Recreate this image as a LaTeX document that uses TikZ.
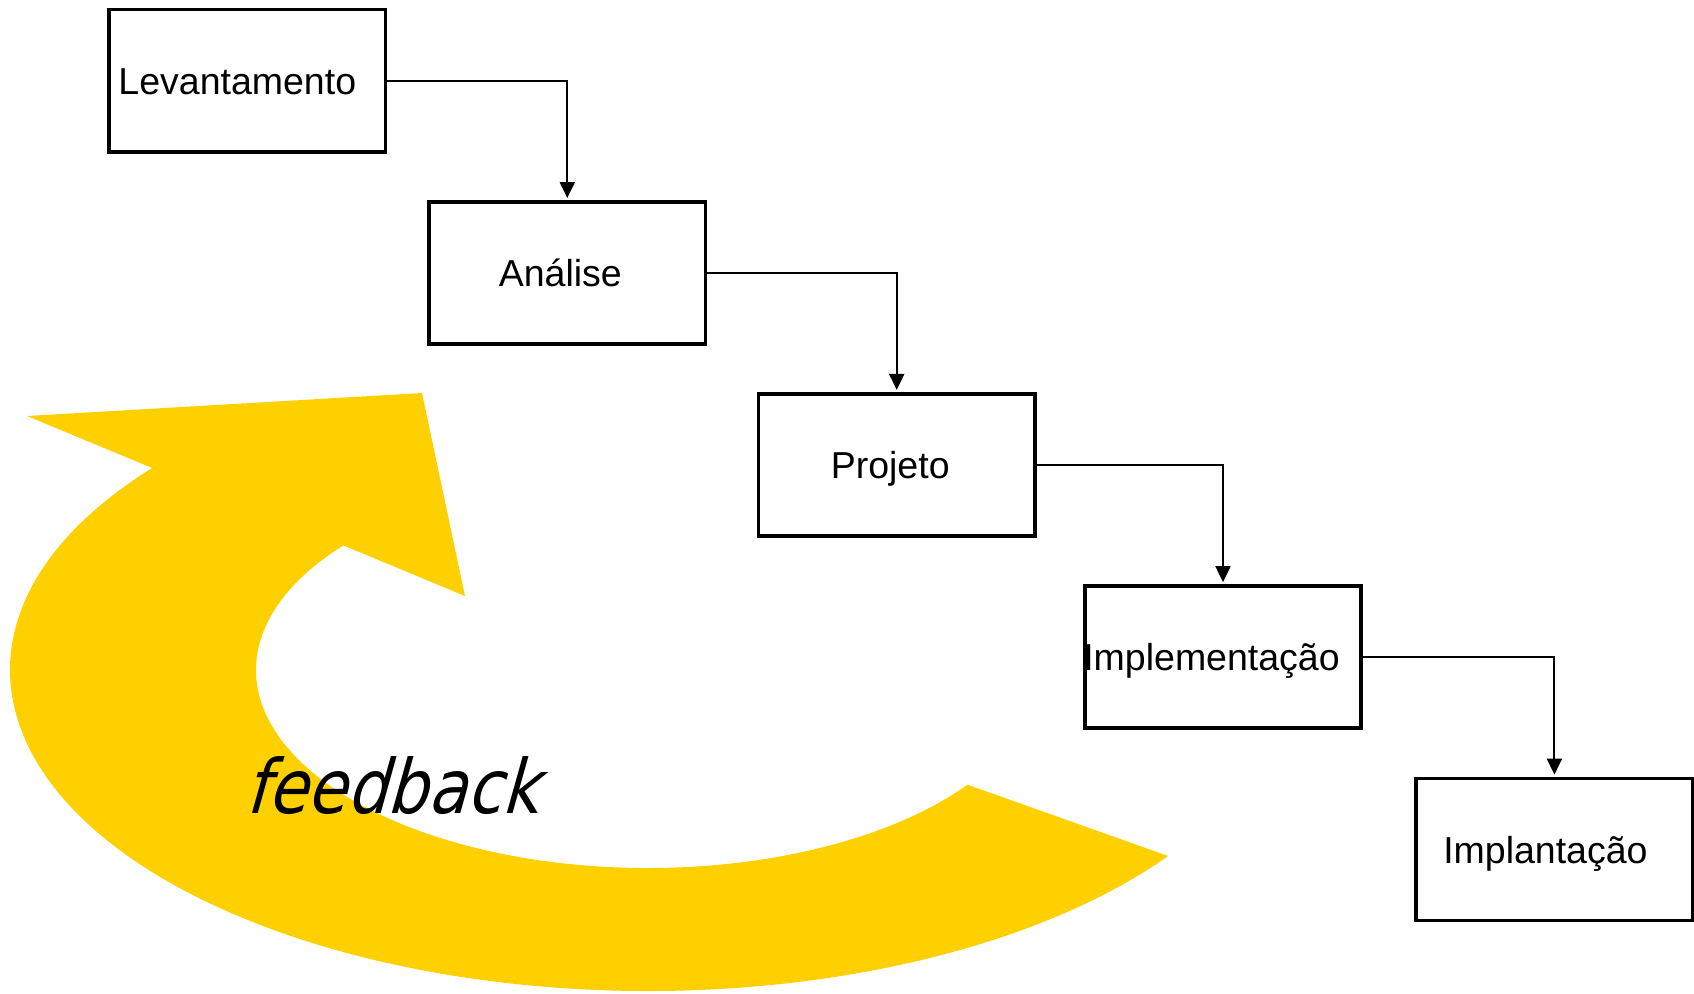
\documentclass[tikz,border=0pt]{standalone}
\usepackage{fontspec}
\setmainfont{Liberation Sans}
\newfontfamily\fbfont{DejaVu Sans}[FakeSlant=0.28,FakeStretch=0.85]
\usetikzlibrary{arrows.meta}
\definecolor{fbyellow}{RGB}{255,208,0}
\begin{document}
\begin{tikzpicture}[x=1pt,y=-1pt,
  stage/.style={draw=black, line width=3.6pt, minimum width=276.4pt,
    minimum height=142.2pt, inner sep=0pt,
    font=\fontsize{37.5}{40}\selectfont, text height=27pt, text depth=0pt},
  flow/.style={draw=black, line width=2.1pt,
    -{Triangle[length=16pt,width=15pt]}, shorten >=2pt},
  fblabel/.style={anchor=base west, inner sep=0pt,
    font=\fbfont\fontsize{75}{80}\selectfont},
]
\useasboundingbox (0,0) rectangle (1694,993);

% curved feedback arrow: outer and inner elliptic arcs around (648,670)
\fill[fbyellow] (152.2,468.0)
  arc[start angle=219, end angle=35.4, x radius=638, y radius=321]
  -- (967.5,784.7)
  arc[start angle=35.4, end angle=219, x radius=392, y radius=198]
  -- (465,596) -- (422,393) -- (27,416) -- cycle;

\node[fblabel] (fb) at (245,813) {feedback};

% process stages
\node[stage] (lev)  at (247.3,80.7)  {\hspace*{-20pt}Levantamento};
\node[stage] (ana)  at (567.3,272.9) {\hspace*{-14pt}Análise};
\node[stage] (proj) at (896.7,464.8) {\hspace*{-13pt}Projeto};
\node[stage] (impl) at (1223,657)    {\hspace*{-23pt}Implementação};
\node[stage] (impt) at (1554.4,849.5){\hspace*{-18pt}Implantação};

% stage-to-stage connectors
\draw[flow] (lev.east)  -| (ana.north);
\draw[flow] (ana.east)  -| (proj.north);
\draw[flow] (proj.east) -| (impl.north);
\draw[flow] (impl.east) -| (impt.north);
\end{tikzpicture}
\end{document}
